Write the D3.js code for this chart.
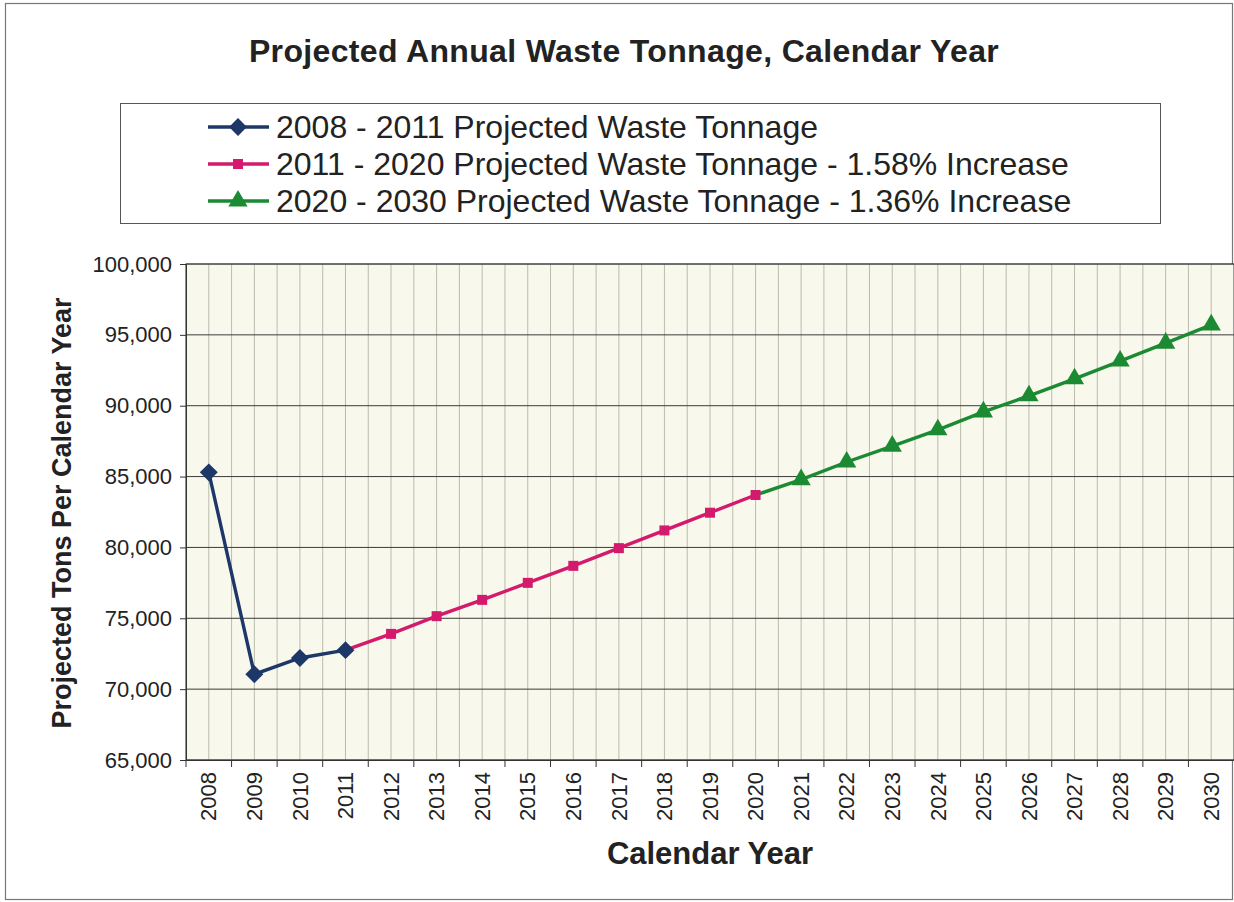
<!DOCTYPE html>
<html>
<head>
<meta charset="utf-8">
<script src="https://cdn.jsdelivr.net/npm/d3@7"></script>
<style>
  body { margin: 0; background: #fff; }
  svg { font-family: "Liberation Sans", Arial, sans-serif; }
</style>
</head>
<body>
<svg width="1234" height="902"></svg>
<script>
// Data
var years = ["2008","2009","2010","2011","2012","2013","2014","2015","2016","2017","2018","2019",
             "2020","2021","2022","2023","2024","2025","2026","2027","2028","2029","2030"];
var yTicks = [65000, 70000, 75000, 80000, 85000, 90000, 95000, 100000];

var years1 = ["2008","2009","2010","2011"];
var tons1 = [85300, 71050, 72200, 72750];

var years2 = ["2011","2012","2013","2014","2015","2016","2017","2018","2019","2020"];
var tons2 = [72750, 73900, 75150, 76300, 77500, 78700, 79950, 81200, 82450, 83700];

var years3 = ["2020","2021","2022","2023","2024","2025","2026","2027","2028","2029","2030"];
var tons3 = [83700, 84780, 86030, 87150, 88300, 89560, 90700, 91900, 93150, 94420, 95700];

var seriesNames = ["2008 - 2011 Projected Waste Tonnage",
                   "2011 - 2020 Projected Waste Tonnage - 1.58% Increase",
                   "2020 - 2030 Projected Waste Tonnage - 1.36% Increase"];
var seriesColors = ["#1c3768", "#d41a6c", "#1c8a32"];
// diamond = square turned 45 degrees
var seriesShapes = [d3.symbolSquare, d3.symbolSquare, d3.symbolTriangle];
var shapeSizes = [160, 100, 160];
var shapeTurns = [45, 0, 0];

var series = [
  { name: seriesNames[0], years: years1, tons: tons1 },
  { name: seriesNames[1], years: years2, tons: tons2 },
  { name: seriesNames[2], years: years3, tons: tons3 }
];

var svg = d3.select("svg");

// Outer frame
svg.append("rect")
  .attr("x", 5.5).attr("y", 3.5).attr("width", 1227).attr("height", 896)
  .attr("fill", "#fff").attr("stroke", "#777").attr("stroke-width", 1.2);

// Title
svg.append("text")
  .attr("x", 624).attr("y", 62)
  .attr("text-anchor", "middle")
  .attr("font-size", 32).attr("font-weight", "bold").attr("fill", "#222")
  .attr("letter-spacing", 0.35)
  .text("Projected Annual Waste Tonnage, Calendar Year");

// Plot area
var plotLeft = 186, plotRight = 1234, plotTop = 264, plotBottom = 760;

var x = d3.scaleBand().domain(years).range([plotLeft, plotRight]).padding(0);
var y = d3.scaleLinear().domain([65000, 100000]).range([plotBottom, plotTop]);

svg.append("rect")
  .attr("x", plotLeft).attr("y", plotTop)
  .attr("width", plotRight - plotLeft).attr("height", plotBottom - plotTop)
  .attr("fill", "#f8f8ec");

// Vertical grid lines at band edges and centers
var vLines = [];
years.forEach(function(yr) {
  vLines.push(x(yr));
  vLines.push(x(yr) + x.bandwidth() / 2);
});
svg.append("g").selectAll("line")
  .data(vLines)
  .enter().append("line")
  .attr("x1", function(d) { return d; }).attr("x2", function(d) { return d; })
  .attr("y1", plotTop).attr("y2", plotBottom)
  .attr("stroke", "#babcac").attr("stroke-width", 1);

// Horizontal grid lines
svg.append("g").selectAll("line")
  .data(yTicks)
  .enter().append("line")
  .attr("x1", plotLeft).attr("x2", plotRight)
  .attr("y1", function(d) { return y(d); }).attr("y2", function(d) { return y(d); })
  .attr("stroke", "#3a3a3a").attr("stroke-width", 1);

// Plot border
svg.append("rect")
  .attr("x", plotLeft).attr("y", plotTop)
  .attr("width", plotRight - plotLeft).attr("height", plotBottom - plotTop)
  .attr("fill", "none").attr("stroke", "#444").attr("stroke-width", 1);

// Y axis
var yAxis = svg.append("g")
  .attr("transform", "translate(" + plotLeft + ",0)")
  .call(d3.axisLeft(y).tickValues(yTicks).tickFormat(d3.format(",")).tickSize(6).tickPadding(8));
yAxis.select(".domain").attr("stroke", "#333");
yAxis.selectAll(".tick line").attr("stroke", "#333");
yAxis.selectAll("text").attr("font-size", 22).attr("fill", "#222")
  .attr("font-family", "'Liberation Sans', Arial, sans-serif");

// X axis: labels at band centers, ticks at band edges
var xAxis = svg.append("g")
  .attr("transform", "translate(0," + plotBottom + ")")
  .call(d3.axisBottom(x).tickSize(0).tickPadding(0));
xAxis.select(".domain").attr("stroke", "#333");
xAxis.selectAll("text")
  .attr("font-size", 22).attr("fill", "#222")
  .attr("font-family", "'Liberation Sans', Arial, sans-serif")
  .attr("transform", "rotate(-90)")
  .attr("text-anchor", "end")
  .attr("x", -12).attr("y", 0).attr("dy", "0.35em");

var edges = years.map(function(yr) { return x(yr); });
svg.append("g").selectAll("line")
  .data(edges)
  .enter().append("line")
  .attr("x1", function(d) { return d; }).attr("x2", function(d) { return d; })
  .attr("y1", plotBottom).attr("y2", plotBottom + 7)
  .attr("stroke", "#333");

// Axis titles
svg.append("text")
  .attr("x", 710).attr("y", 864)
  .attr("text-anchor", "middle")
  .attr("font-size", 31).attr("font-weight", "bold").attr("fill", "#222")
  .text("Calendar Year");

svg.append("text")
  .attr("transform", "translate(71,513) rotate(-90)")
  .attr("text-anchor", "middle")
  .attr("font-size", 27).attr("font-weight", "bold").attr("fill", "#222")
  .text("Projected Tons Per Calendar Year");

// Lines
var line = d3.line()
  .x(function(d) { return x(d.year) + x.bandwidth() / 2; })
  .y(function(d) { return y(d.tons); });

series.forEach(function(s) {
  s.points = s.years.map(function(yr, j) { return { year: yr, tons: s.tons[j] }; });
});

series.slice().reverse().forEach(function(s) {
  var i = series.indexOf(s);
  svg.append("path")
    .datum(s.points)
    .attr("fill", "none")
    .attr("stroke", seriesColors[i])
    .attr("stroke-width", 3.4)
    .attr("d", line);
});

// Markers (first point of later series sits under the previous series' marker)
series.forEach(function(s, i) {
  var pts = i === 0 ? s.points : s.points.slice(1);
  svg.append("g").selectAll("path")
    .data(pts)
    .enter().append("path")
    .attr("transform", function(d) {
      return "translate(" + (x(d.year) + x.bandwidth() / 2) + "," + y(d.tons) + ") rotate(" + shapeTurns[i] + ")";
    })
    .attr("d", d3.symbol().type(seriesShapes[i]).size(shapeSizes[i]))
    .attr("fill", seriesColors[i]);
});

// Legend
svg.append("rect")
  .attr("x", 120.5).attr("y", 103.5).attr("width", 1040).attr("height", 120)
  .attr("fill", "#fff").attr("stroke", "#555").attr("stroke-width", 1);

var legend = svg.append("g").selectAll("g")
  .data(seriesNames)
  .enter().append("g")
  .attr("transform", function(d, i) { return "translate(0," + (127 + i * 37) + ")"; });

legend.append("line")
  .attr("x1", 208).attr("x2", 269)
  .attr("stroke", function(d, i) { return seriesColors[i]; })
  .attr("stroke-width", 3.4);

legend.append("path")
  .attr("transform", function(d, i) { return "translate(238,0) rotate(" + shapeTurns[i] + ")"; })
  .attr("d", function(d, i) { return d3.symbol().type(seriesShapes[i]).size(shapeSizes[i])(); })
  .attr("fill", function(d, i) { return seriesColors[i]; });

legend.append("text")
  .attr("x", 276).attr("dy", "0.35em")
  .attr("font-size", 32).attr("fill", "#222")
  .text(function(d) { return d; });
</script>
</body>
</html>
